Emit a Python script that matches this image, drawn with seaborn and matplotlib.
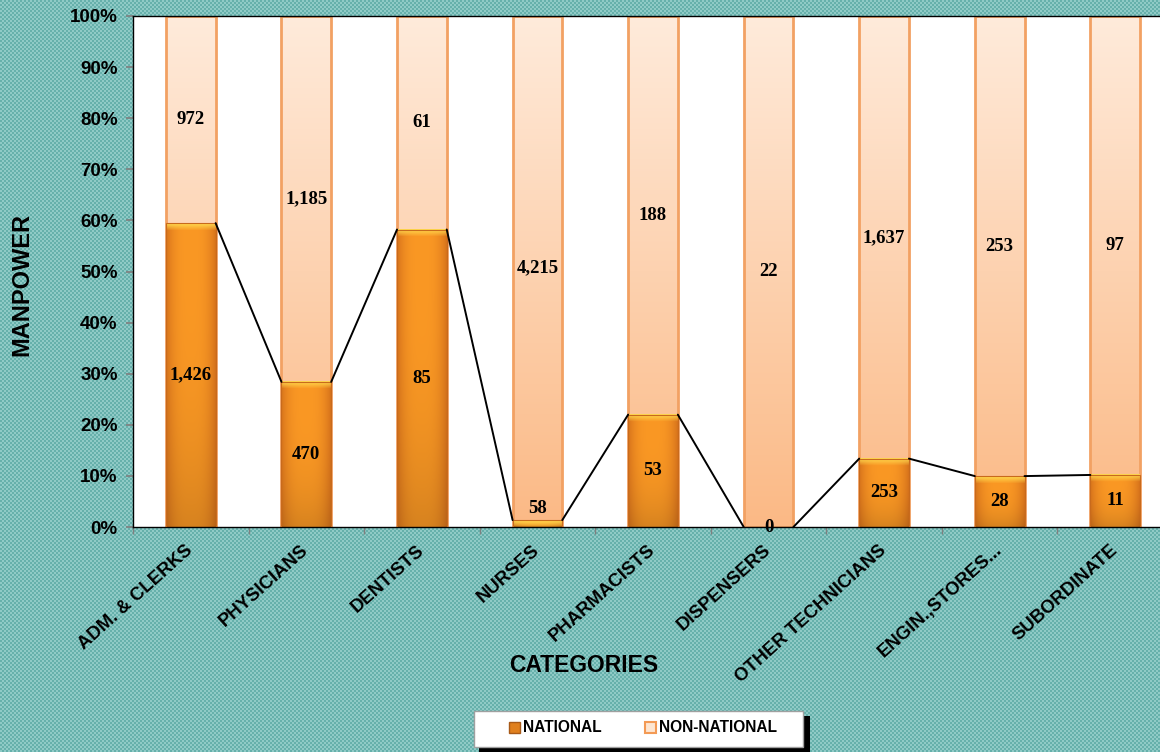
"""
Manpower by category: national vs non-national staff (100% stacked bars).
Output: out.png
"""

import numpy as np
import pandas as pd
import matplotlib
matplotlib.use("Agg")
import matplotlib.pyplot as plt
from matplotlib.colors import to_rgb
from matplotlib.patches import Patch, Rectangle
import seaborn as sns

# ---------------------------------------------------------------------------
# Data
# ---------------------------------------------------------------------------
categories = ["ADM. & CLERKS", "PHYSICIANS", "DENTISTS", "NURSES", "PHARMACISTS",
              "DISPENSERS", "OTHER TECHNICIANS", "ENGIN.,STORES...", "SUBORDINATE"]
national = [1426, 470, 85, 58, 53, 0, 253, 28, 11]
non_national = [972, 1185, 61, 4215, 188, 22, 1637, 253, 97]

df = pd.DataFrame({"category": categories, "national": national,
                   "non_national": non_national})
df["total"] = df["national"] + df["non_national"]
df["nat_pct"] = df["national"] / df["total"] * 100
df["full"] = 100.0

# ---------------------------------------------------------------------------
# Style
# ---------------------------------------------------------------------------
sns.set_theme(style="white")
plt.rcParams["font.family"] = ["Liberation Sans", "DejaVu Sans"]
for k in ["text.color", "axes.labelcolor", "xtick.color", "ytick.color"]:
    plt.rcParams[k] = "black"
SERIF = ["Liberation Serif", "DejaVu Serif"]

W, H = 1160, 752
fig = plt.figure(figsize=(W / 100, H / 100), dpi=100)

# textured teal background
yy, xx = np.mgrid[0:H, 0:W]
chk = ((xx // 2 + yy // 2) % 2 == 0)
bg = np.where(chk[..., None], np.array(to_rgb("#66B0AB")), np.array(to_rgb("#8FCAC6")))
fig.figimage(bg, xo=0, yo=0, zorder=-1, origin="upper")

PX_H = 511
ax = fig.add_axes([133 / W, 1 - 527 / H, 1040 / W, PX_H / H])
ax.set_facecolor("white")

BAR_W = 0.43
sns.barplot(data=df, x="category", y="full", order=categories, color="#FBC08F",
            width=BAR_W, saturation=1, errorbar=None, ax=ax)
sns.barplot(data=df, x="category", y="nat_pct", order=categories, color="#F28C1E",
            width=BAR_W, saturation=1, errorbar=None, ax=ax)


def nat_grad(nrows, ncols=50):
    u = np.linspace(0, 1, ncols)
    p = np.abs(2 * u - 1) ** 3
    c0, c1 = np.array(to_rgb("#FA9824")), np.array(to_rgb("#D8741C"))
    row = c0 * (1 - p[:, None]) + c1 * p[:, None]
    img = np.repeat(row[None, :, :], nrows, axis=0)
    # darker toward bottom
    v = np.linspace(0, 1, nrows)[:, None, None]
    img = img * (1 - 0.14 * v ** 3)
    # yellow bevel at top
    nb = min(7, nrows)
    hl = np.array(to_rgb("#FFD84E"))
    for k in range(nb):
        a = 1 - k / nb
        img[k] = img[k] * (1 - a) + hl * a
    return np.clip(img, 0, 1)


def non_grad(nrows, ncols=50):
    v = np.linspace(0, 1, nrows)[:, None, None]
    c0, c1 = np.array(to_rgb("#FFEBDB")), np.array(to_rgb("#FBB985"))
    img = c0 * (1 - v) + c1 * v
    return np.repeat(img, ncols, axis=1)


for cont, kind in zip(ax.containers, ["non", "nat"]):
    for rect in cont:
        x, y = rect.get_x(), rect.get_y()
        w, h = rect.get_width(), rect.get_height()
        if h <= 0:
            continue
        if kind == "non":
            rows = PX_H
            img = non_grad(rows)
            rect.set_edgecolor("#F2A163")
            rect.set_linewidth(2)
        else:
            rows = max(2, int(round(h / 100 * PX_H)))
            img = nat_grad(rows)
            rect.set_edgecolor("#C86A1C")
            rect.set_linewidth(0.8)
        rect.set_facecolor("none")
        ax.imshow(img, extent=[x, x + w, y, y + h], aspect="auto",
                  origin="upper", zorder=1.5 if kind == "non" else 2.5,
                  interpolation="bilinear")
        rect.set_zorder(1.6 if kind == "non" else 2.6)

# series lines between national tops
pct = df["nat_pct"].to_numpy()
for i in range(len(categories) - 1):
    ax.plot([i + BAR_W / 2, i + 1 - BAR_W / 2], [pct[i], pct[i + 1]],
            color="black", lw=1.4, zorder=3)

# data labels
for i, row in df.iterrows():
    nat_mid = row["nat_pct"] / 2
    if row["national"] > 0:
        nat_mid = max(nat_mid, 3.7)  # small segment: label sits just above
    ax.text(i, nat_mid, f"{row['national']:,}", ha="center", va="center",
            fontsize=13.5, fontweight="bold", family=SERIF, zorder=4)
    non_mid = row["nat_pct"] + (100 - row["nat_pct"]) / 2
    ax.text(i, non_mid, f"{row['non_national']:,}", ha="center", va="center",
            fontsize=13.5, fontweight="bold", family=SERIF, zorder=4)

# axes
ax.set_xlim(-0.5, len(categories) - 0.5)
ax.set_ylim(0, 100)
ax.set_yticks(np.arange(0, 101, 10))
ax.set_yticklabels([f"{v}%" for v in range(0, 101, 10)], fontsize=13.5,
                   fontweight="bold")
ax.set_xticks(range(len(categories)))
ax.set_xticklabels(categories, rotation=42, ha="right", va="center",
                   rotation_mode="anchor", fontsize=13.3, fontweight="bold")
ax.set_xticks(np.arange(-0.5, len(categories), 1), minor=True)
ax.tick_params(axis="x", which="major", length=0, pad=15)
ax.tick_params(axis="x", which="minor", length=5, color="#808080", bottom=True)
ax.tick_params(axis="y", length=5, color="#808080", left=True, pad=6)
ax.set_xlabel("")
ax.set_ylabel("")
for s in ["left", "bottom", "top"]:
    ax.spines[s].set_color("black")
    ax.spines[s].set_linewidth(1)
ax.spines["right"].set_visible(False)

fig.text(584 / W, 1 - 666 / H, "CATEGORIES", ha="center", va="center",
         fontsize=16.5, fontweight="bold")
fig.text(22 / W, 1 - 285 / H, "MANPOWER", ha="center", va="center",
         rotation=90, fontsize=17, fontweight="bold")

# legend box with drop shadow
fig.patches.append(Rectangle((479 / W, 1 - 752 / H), 331 / W, 36 / H,
                             transform=fig.transFigure, facecolor="black",
                             edgecolor="none", zorder=5))
fig.patches.append(Rectangle((474 / W, 1 - 747 / H), 329 / W, 36 / H,
                             transform=fig.transFigure, facecolor="white",
                             edgecolor="#A0A0A0", lw=1, zorder=6))

handles = [Patch(facecolor="#E0801E", edgecolor="#A85A18", label="NATIONAL"),
           Patch(facecolor="#FDE6D2", edgecolor="#F39A55", linewidth=1.5,
                 label="NON-NATIONAL")]
leg = fig.legend(handles=handles, loc="center", ncol=2,
                 bbox_to_anchor=(643 / W, 1 - 728 / H), frameon=False,
                 prop={"weight": "bold", "size": 11.2},
                 handlelength=0.7, handleheight=0.7, handletextpad=0.2,
                 columnspacing=2.8, borderpad=0, borderaxespad=0)
leg.set_zorder(7)
for t in leg.get_texts():
    t.set_color("black")

fig.savefig("out.png", dpi=100)
